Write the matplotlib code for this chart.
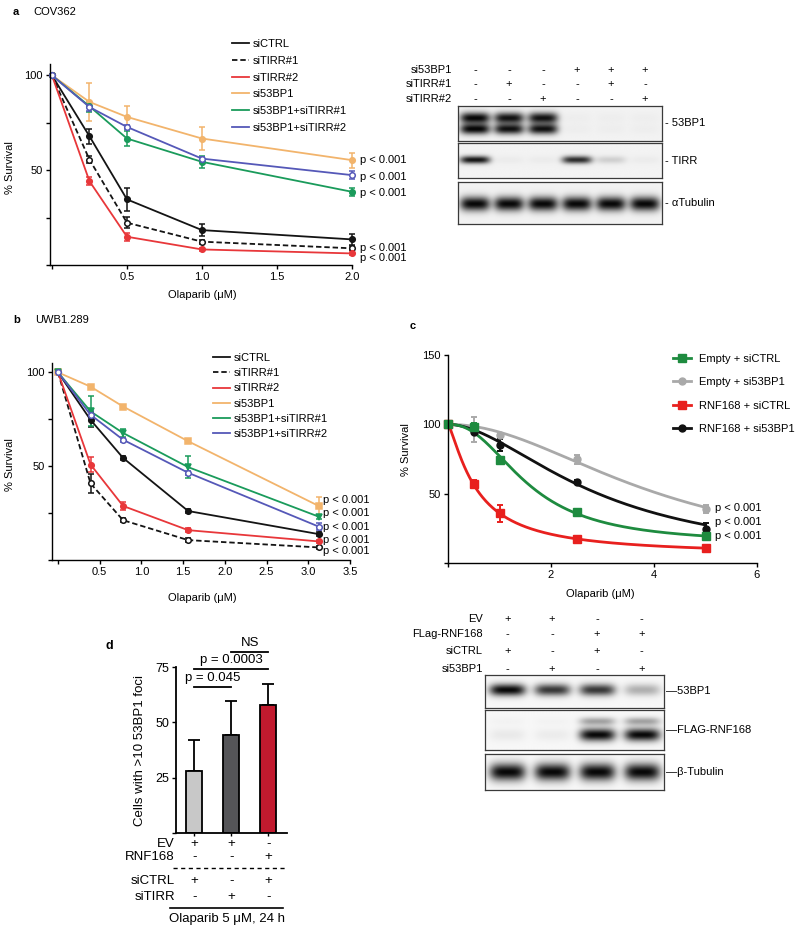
import numpy as np
import matplotlib
matplotlib.use('Agg')
import matplotlib.pyplot as plt
import matplotlib.transforms as mtransforms
from matplotlib.lines import Line2D

plt.rcParams['font.family'] = ['Liberation Sans', 'DejaVu Sans']

W, H = 800, 933

# ---------------- panel a: COV362 survival ----------------
dose_a = [0, 0.25, 0.5, 1.0, 2.0]
a_sictrl = [100, 67.9, 34.6, 18.4, 13.5]
a_sictrl_err = [0, 4, 6, 3, 3]
a_tirr1 = [100, 55.6, 22.3, 12.3, 8.8]
a_tirr1_err = [0, 2, 3, 1, 1]
a_tirr2 = [100, 44.2, 14.9, 8.2, 6.1]
a_tirr2_err = [0, 2, 2, 1, 1]
a_53bp1 = [100, 86.0, 78.1, 66.7, 55.3]
a_53bp1_err = [0, 10, 6, 6, 4]
a_53bp1_tirr1 = [100, 83.7, 66.7, 54.4, 38.6]
a_53bp1_tirr1_err = [0, 3, 4, 3, 2]
a_53bp1_tirr2 = [100, 83.3, 72.8, 56.1, 47.4]
a_53bp1_tirr2_err = [0, 2, 1, 1, 2]

# ---------------- panel b: UWB1.289 survival ----------------
dose_b = [0, 0.39, 0.78, 1.56, 3.125]
b_sictrl = [100, 74.7, 54.4, 26.1, 13.8]
b_sictrl_err = [0, 4, 1, 1, 1]
b_tirr1 = [100, 40.8, 21.2, 10.6, 6.7]
b_tirr1_err = [0, 5, 1, 1, 1]
b_tirr2 = [100, 50.9, 28.8, 15.9, 9.9]
b_tirr2_err = [0, 4, 2, 1, 1]
b_53bp1 = [100, 92.4, 81.8, 63.3, 28.8]
b_53bp1_err = [0, 1, 1, 1, 5]
b_53bp1_tirr1 = [100, 79.2, 67.7, 49.5, 23.1]
b_53bp1_tirr1_err = [0, 8, 2, 6, 1]
b_53bp1_tirr2 = [100, 77.4, 64.1, 46.5, 17.8]
b_53bp1_tirr2_err = [0, 2, 1, 1, 2]

labels_ab = ['siCTRL', 'siTIRR#1', 'siTIRR#2', 'si53BP1',
             'si53BP1+siTIRR#1', 'si53BP1+siTIRR#2']
p_labels_a = ['p < 0.001'] * 5
p_labels_b = ['p < 0.001'] * 5

# ---------------- panel c: RNF168 survival ----------------
dose_c = [0, 0.5, 1, 2.5, 5]
c_empty_ctrl = [100, 97.8, 74.2, 36.9, 19.3]
c_empty_ctrl_err = [0, 3, 2, 1, 1]
c_empty_53bp1 = [100, 96.0, 92.3, 74.7, 38.8]
c_empty_53bp1_err = [0, 9, 1, 3, 3]
c_rnf_ctrl = [100, 56.9, 35.7, 17.6, 10.8]
c_rnf_ctrl_err = [0, 3, 6, 2, 1]
c_rnf_53bp1 = [100, 94.7, 85.1, 58.6, 24.8]
c_rnf_53bp1_err = [0, 2, 4, 1, 4]
labels_c = ['Empty + siCTRL', 'Empty + si53BP1', 'RNF168 + siCTRL',
            'RNF168 + si53BP1']
p_labels_c = ['p < 0.001'] * 3

# ---------------- panel d: 53BP1 foci ----------------
d_values = [28.2, 44.3, 58.0]
d_errors = [14.0, 15.5, 9.5]
d_ev = ['+', '+', '-']
d_rnf168 = ['-', '-', '+']
d_sictrl = ['+', '-', '+']
d_sitirr = ['-', '+', '-']
d_sig = [('p = 0.045', 0, 1), ('p = 0.0003', 0, 2), ('NS', 1, 2)]

# ---------------- western blots ----------------
blot_a_rows = ['si53BP1', 'siTIRR#1', 'siTIRR#2']
blot_a_signs = [['-', '-', '-', '+', '+', '+'],
                ['-', '+', '-', '-', '+', '-'],
                ['-', '-', '+', '-', '-', '+']]
blot_a_53bp1 = [1.0, 0.95, 0.95, 0.02, 0.02, 0.02]
blot_a_tirr = [0.95, 0.03, 0.03, 0.85, 0.15, 0.03]
blot_a_tub = [1.0, 1.0, 1.0, 1.0, 1.0, 1.0]

blot_c_rows = ['EV', 'FLag-RNF168', 'siCTRL', 'si53BP1']
blot_c_signs = [['+', '+', '-', '-'],
                ['-', '-', '+', '+'],
                ['+', '-', '+', '-'],
                ['-', '+', '-', '+']]
blot_c_53bp1 = [1.0, 0.8, 0.8, 0.3]
blot_c_flag = [0.06, 0.05, 1.0, 1.0]
blot_c_flag_upper = [0.02, 0.02, 0.35, 0.35]
blot_c_tub = [1.0, 1.0, 1.0, 1.0]

BLACK = '#141414'
RED = '#E8373A'
ORANGE = '#F2B46C'
GREEN = '#1A9B5B'
BLUE = '#5558B8'


def px_axes(fig, left, top, right, bottom):
    return fig.add_axes([left / W, 1 - bottom / H,
                         (right - left) / W, (bottom - top) / H])


def ftext(fig, x, y, s, **kw):
    kw.setdefault('va', 'center')
    kw.setdefault('fontsize', 8)
    fig.text(x / W, 1 - y / H, s, **kw)


def style_axes(ax, labelsize=8):
    for s in ['top', 'right']:
        ax.spines[s].set_visible(False)
    for s in ['left', 'bottom']:
        ax.spines[s].set_linewidth(1.0)
    ax.tick_params(direction='out', length=3, width=1,
                   labelsize=labelsize, pad=2)


def fit_curve(x, y):
    """Fit y = bottom + (100 - bottom) / (1 + (x/ec50)^h) by grid search"""
    x = np.asarray(x, float)
    y = np.asarray(y, float)
    bottoms = np.linspace(0, 60, 121)
    ec50s = np.logspace(-1.3, 1.2, 120)
    hills = np.linspace(0.5, 5, 46)
    B, E, Hh = np.meshgrid(bottoms, ec50s, hills, indexing='ij')
    pred = B[..., None] + (100 - B[..., None]) / (
        1 + (x / E[..., None]) ** Hh[..., None])
    sse = ((pred - y) ** 2).sum(-1)
    i = np.unravel_index(np.argmin(sse), sse.shape)
    b, e, h = B[i], E[i], Hh[i]
    return lambda xx: b + (100 - b) / (1 + (xx / e) ** h)


def draw_blot(ax, bands, n_lanes, half_w, bg=0.95):
    xs = np.linspace(0.5, n_lanes + 0.5, 500)
    ys = np.linspace(0, 1, 120)
    X, Y = np.meshgrid(xs, ys)
    dens = np.zeros_like(X)
    for vals, yc, hh in bands:
        for lane, v in enumerate(vals, start=1):
            dens += v * np.exp(-((X - lane) / half_w) ** 4) * \
                np.exp(-((Y - yc) / hh) ** 2)
    img = bg - (bg - 0.03) * np.clip(dens, 0, 1)
    ax.imshow(img, cmap='gray', vmin=0, vmax=1, origin='lower',
              extent=(0.5, n_lanes + 0.5, 0, 1), aspect='auto',
              interpolation='bilinear')
    ax.set_xlim(0.5, n_lanes + 0.5)
    ax.set_ylim(0, 1)
    ax.set_xticks([])
    ax.set_yticks([])
    for s in ax.spines.values():
        s.set_linewidth(0.9)
        s.set_color('#3a3a3a')


fig = plt.figure(figsize=(W / 100, H / 100), dpi=100)

# ======== panel a ========
ftext(fig, 13, 12, 'a', fontweight='bold')
ftext(fig, 33, 12, 'COV362')
ax = px_axes(fig, 50, 64, 352, 265)
style_axes(ax)
series_a = [
    (a_sictrl, a_sictrl_err, BLACK, '-', 'o', BLACK),
    (a_tirr1, a_tirr1_err, BLACK, '--', 'o', 'white'),
    (a_tirr2, a_tirr2_err, RED, '-', 'o', RED),
    (a_53bp1, a_53bp1_err, ORANGE, '-', 'o', ORANGE),
    (a_53bp1_tirr1, a_53bp1_tirr1_err, GREEN, '-', 'o', GREEN),
    (a_53bp1_tirr2, a_53bp1_tirr2_err, BLUE, '-', 'o', 'white'),
]
handles = []
for (y, e, col, ls, mk, mfc), lab in zip(series_a, labels_ab):
    kw = {'dashes': (3, 1.6)} if ls == '--' else {}
    ax.errorbar(dose_a, y, yerr=e, color=col, ls=ls, marker=mk, mfc=mfc,
                mec=col, ms=4, mew=1.1, lw=1.3, elinewidth=1.1, capsize=2,
                capthick=1.1, clip_on=False, **kw)
    handles.append(Line2D([], [], color=col, ls=ls, lw=1.3, **kw))
ax.set_xlim(-0.013, 2.0)
ax.set_ylim(0, 106)
ax.set_xticks([0, 0.5, 1.0, 1.5, 2.0])
ax.set_xticklabels(['', '0.5', '1.0', '1.5', '2.0'])
ax.set_yticks([0, 25, 50, 75, 100])
ax.set_yticklabels(['', '', '50', '', '100'])
ax.legend(handles, labels_ab, loc='upper left', frameon=False, fontsize=8,
          bbox_to_anchor=(232 / W, 1 - 39 / H),
          bbox_transform=fig.transFigure, handlelength=1.5,
          handletextpad=0.4, labelspacing=0.61, borderpad=0,
          borderaxespad=0)
ftext(fig, 10, 168, '% Survival', rotation=90, ha='center')
ftext(fig, 202, 295, 'Olaparib (\u03bcM)', ha='center')
for lab, yy in zip(p_labels_a, [160, 177, 193, 248, 258]):
    ftext(fig, 360, yy, lab)

# ======== blot a ========
blot_a_boxes = [(106, 141), (143, 178), (182, 224)]
blot_a_bands = [
    [(blot_a_53bp1, 0.66, 0.16), (blot_a_53bp1, 0.34, 0.15)],
    [(blot_a_tirr, 0.52, 0.11)],
    [(blot_a_tub, 0.48, 0.17)],
]
blot_a_names = ['- 53BP1', '- TIRR', '- \u03b1Tubulin']
blot_axes = []
for (top, bot), bands, name in zip(blot_a_boxes, blot_a_bands,
                                   blot_a_names):
    bax = px_axes(fig, 458, top, 662, bot)
    draw_blot(bax, bands, 6, 0.44)
    blot_axes.append(bax)
    ftext(fig, 665, (top + bot) / 2, name)
trans = mtransforms.blended_transform_factory(blot_axes[0].transData,
                                              fig.transFigure)
for row, signs, yy in zip(blot_a_rows, blot_a_signs, [70, 84, 99]):
    ftext(fig, 452, yy, row, ha='right')
    for lane, s in enumerate(signs, start=1):
        blot_axes[0].text(lane, 1 - yy / H, s, transform=trans,
                          ha='center', va='center', fontsize=8)

# ======== panel b ========
ftext(fig, 13, 320, 'b', fontweight='bold')
ftext(fig, 35, 320, 'UWB1.289')
ax = px_axes(fig, 52, 363, 350, 560)
style_axes(ax)
series_b = [
    (b_sictrl, b_sictrl_err, BLACK, '-', 'o', BLACK),
    (b_tirr1, b_tirr1_err, BLACK, '--', 'o', 'white'),
    (b_tirr2, b_tirr2_err, RED, '-', 'o', RED),
    (b_53bp1, b_53bp1_err, ORANGE, '-', 's', ORANGE),
    (b_53bp1_tirr1, b_53bp1_tirr1_err, GREEN, '-', 'v', GREEN),
    (b_53bp1_tirr2, b_53bp1_tirr2_err, BLUE, '-', 'o', 'white'),
]
handles = []
for (y, e, col, ls, mk, mfc), lab in zip(series_b, labels_ab):
    kw = {'dashes': (3, 1.6)} if ls == '--' else {}
    ax.errorbar(dose_b, y, yerr=e, color=col, ls=ls, marker=mk, mfc=mfc,
                mec=col, ms=4, mew=1.1, lw=1.3, elinewidth=1.1, capsize=2,
                capthick=1.1, clip_on=False, **kw)
    handles.append(Line2D([], [], color=col, ls=ls, lw=1.3, **kw))
ax.set_xlim(-0.072, 3.5)
ax.set_ylim(0, 105)
ax.set_xticks([0, 0.5, 1.0, 1.5, 2.0, 2.5, 3.0, 3.5])
ax.set_xticklabels(['', '0.5', '1.0', '1.5', '2.0', '2.5', '3.0', '3.5'])
ax.set_yticks([0, 25, 50, 75, 100])
ax.set_yticklabels(['', '', '50', '', '100'])
ax.legend(handles, labels_ab, loc='upper left', frameon=False, fontsize=8,
          bbox_to_anchor=(213 / W, 1 - 353 / H),
          bbox_transform=fig.transFigure, handlelength=1.5,
          handletextpad=0.4, labelspacing=0.47, borderpad=0,
          borderaxespad=0)
ftext(fig, 10, 465, '% Survival', rotation=90, ha='center')
ftext(fig, 202, 598, 'Olaparib (\u03bcM)', ha='center')
for lab, yy in zip(p_labels_b, [500, 513, 527, 540, 551]):
    ftext(fig, 323, yy, lab)

# ======== panel c ========
ftext(fig, 410, 326, 'c', fontweight='bold')
ax = px_axes(fig, 448, 355, 757, 563)
style_axes(ax)
series_c = [
    (c_empty_53bp1, c_empty_53bp1_err, '#A9A9A9', 'o', 5),
    (c_rnf_53bp1, c_rnf_53bp1_err, '#111111', 'o', 5),
    (c_rnf_ctrl, c_rnf_ctrl_err, '#E8201E', 's', 6),
    (c_empty_ctrl, c_empty_ctrl_err, '#1E8B3F', 's', 6),
]
xs = np.linspace(0, max(dose_c), 300)
hmap = {}
for (y, e, col, mk, ms), lab in zip(series_c, [labels_c[1], labels_c[3],
                                               labels_c[2], labels_c[0]]):
    f = fit_curve(dose_c, y)
    ax.plot(xs, f(xs), color=col, lw=2.0)
    ax.errorbar(dose_c, y, yerr=e, fmt=mk, color=col, ms=ms,
                elinewidth=1.4, capsize=2.5, capthick=1.4, clip_on=False)
    hmap[lab] = Line2D([], [], color=col, lw=2.0, marker=mk, ms=ms)
ax.set_xlim(0, 6)
ax.set_ylim(0, 150)
ax.set_xticks([0, 2, 4, 6])
ax.set_xticklabels(['', '2', '4', '6'])
ax.set_yticks([0, 50, 100, 150])
ax.set_yticklabels(['', '50', '100', '150'])
ax.legend([hmap[l] for l in labels_c], labels_c, loc='upper left',
          frameon=False, fontsize=8, bbox_to_anchor=(673 / W, 1 - 354 / H),
          bbox_transform=fig.transFigure, handlelength=1.6,
          handletextpad=0.7, labelspacing=1.2, borderpad=0,
          borderaxespad=0)
ftext(fig, 406, 450, '% Survival', rotation=90, ha='center')
ftext(fig, 600, 594, 'Olaparib (\u03bcM)', ha='center')
for lab, yy in zip(p_labels_c, [508, 522, 536]):
    ftext(fig, 715, yy, lab)

# ======== blot c ========
blot_c_boxes = [(675, 708), (710, 750), (754, 790)]
blot_c_bands = [
    [(blot_c_53bp1, 0.55, 0.18)],
    [(blot_c_flag, 0.38, 0.16), (blot_c_flag_upper, 0.72, 0.1)],
    [(blot_c_tub, 0.5, 0.24)],
]
blot_c_names = ['\u201453BP1', '\u2014FLAG-RNF168', '\u2014\u03b2-Tubulin']
blot_axes = []
for (top, bot), bands, name in zip(blot_c_boxes, blot_c_bands,
                                   blot_c_names):
    bax = px_axes(fig, 485, top, 664, bot)
    draw_blot(bax, bands, 4, 0.4, bg=0.97)
    blot_axes.append(bax)
    ftext(fig, 666, (top + bot) / 2, name)
trans = mtransforms.blended_transform_factory(blot_axes[0].transData,
                                              fig.transFigure)
for row, signs, yy in zip(blot_c_rows, blot_c_signs, [619, 634, 651, 669]):
    ftext(fig, 483, yy, row, ha='right')
    for lane, s in enumerate(signs, start=1):
        blot_axes[0].text(lane, 1 - yy / H, s, transform=trans,
                          ha='center', va='center', fontsize=8)

# ======== panel d ========
ftext(fig, 105, 646, 'd', fontweight='bold', fontsize=9)
ax = px_axes(fig, 176, 667, 287, 833)
style_axes(ax, labelsize=9)
ax.spines['left'].set_linewidth(1.3)
ax.spines['bottom'].set_linewidth(1.3)
pos = np.arange(len(d_values))
ax.bar(pos, d_values, width=0.43, color=['#C8C8C8', '#555558', '#C21A2E'],
       edgecolor='black', linewidth=1.3, zorder=2)
ax.errorbar(pos, d_values, yerr=[np.zeros(len(d_errors)), d_errors],
            fmt='none', ecolor='black', elinewidth=1.3, capsize=4.5,
            capthick=1.3, zorder=1)
ax.set_xlim(-0.49, 2.51)
ax.set_ylim(0, 75)
ax.set_yticks([0, 25, 50, 75])
ax.set_yticklabels(['', '25', '50', '75'])
ax.set_xticks(pos)
ax.set_xticklabels([])
ax.tick_params(axis='x', length=2)
for (lab, i0, i1), ly in zip(d_sig, [66, 74.2, 82.0]):
    ax.plot([i0, i1], [ly, ly], color='black', lw=1.3, clip_on=False)
    ax.text((i0 + i1) / 2, ly + 1.2, lab, ha='center', va='bottom',
            fontsize=9.5, clip_on=False)
ftext(fig, 140, 750, 'Cells with >10 53BP1 foci', rotation=90,
      ha='center', fontsize=9.5)
trans = mtransforms.blended_transform_factory(ax.transData, fig.transFigure)
rows_d = [('EV', d_ev, 844), ('RNF168', d_rnf168, 857),
          ('siCTRL', d_sictrl, 881), ('siTIRR', d_sitirr, 897)]
for row, signs, yy in rows_d:
    ftext(fig, 175, yy, row, ha='right', fontsize=9.5)
    for p, s in zip(pos, signs):
        ax.text(p, 1 - yy / H, s, transform=trans, ha='center',
                va='center', fontsize=9.5)
fig.add_artist(Line2D([173 / W, 287 / W], [1 - 868 / H, 1 - 868 / H],
                      transform=fig.transFigure, color='black', lw=1,
                      dashes=(3, 2.5)))
fig.add_artist(Line2D([170 / W, 283 / W], [1 - 908 / H, 1 - 908 / H],
                      transform=fig.transFigure, color='black', lw=1.2))
ftext(fig, 227, 919, 'Olaparib 5 \u03bcM, 24 h', ha='center', fontsize=9.5)

fig.savefig('out.png', dpi=100)
